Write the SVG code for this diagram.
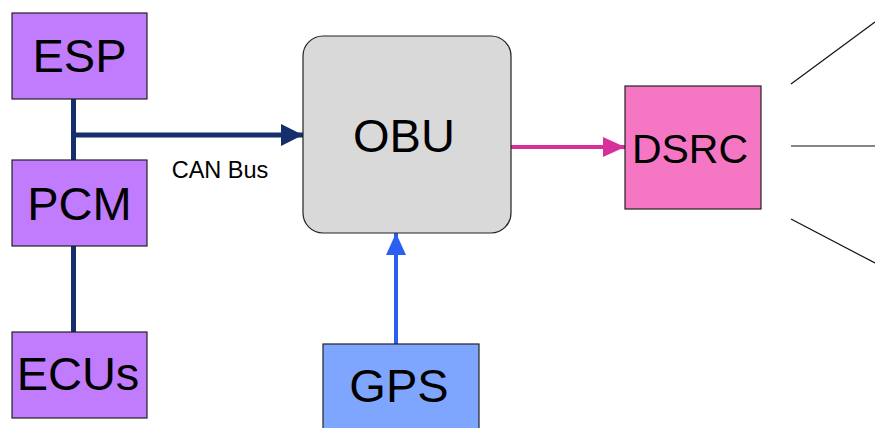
<svg xmlns="http://www.w3.org/2000/svg" width="875" height="428" viewBox="0 0 875 428">
<style>
.box{stroke:#222;stroke-width:1.2}
.ecu{fill:#c07cfc}
.lbl{font-family:"Liberation Sans",Arial,sans-serif;fill:#000;text-anchor:middle}
.big{font-size:47px}
</style>
<defs>
<marker id="mNavy" markerUnits="userSpaceOnUse" markerWidth="22" markerHeight="22" refX="22" refY="11" orient="auto"><path d="M0,0 L22,11 L0,22 Z" fill="#142f6b"/></marker>
<marker id="mPink" markerUnits="userSpaceOnUse" markerWidth="22" markerHeight="20" refX="22" refY="10" orient="auto"><path d="M0,0 L22,10 L0,20 Z" fill="#d8309a"/></marker>
<marker id="mBlue" markerUnits="userSpaceOnUse" markerWidth="22" markerHeight="20" refX="22" refY="10" orient="auto"><path d="M0,0 L22,10 L0,20 Z" fill="#2a5ff2"/></marker>
</defs>
<g id="connectors">
<line x1="73.5" y1="98" x2="73.5" y2="332" stroke="#142f6b" stroke-width="5"/>
<line x1="73.5" y1="135" x2="303" y2="135" stroke="#142f6b" stroke-width="5" marker-end="url(#mNavy)"/>
<line x1="511" y1="147" x2="625" y2="147" stroke="#d8309a" stroke-width="4" marker-end="url(#mPink)"/>
<line x1="396" y1="344" x2="396" y2="233" stroke="#2a5ff2" stroke-width="4" marker-end="url(#mBlue)"/>
<line x1="791" y1="84" x2="875" y2="22" stroke="#111" stroke-width="1.2"/>
<line x1="791" y1="146" x2="875" y2="146" stroke="#111" stroke-width="1.2"/>
<line x1="791" y1="219" x2="875" y2="263" stroke="#111" stroke-width="1.2"/>
<text class="lbl" x="220" y="178" font-size="23.5">CAN Bus</text>
</g>
<g id="esp"><rect class="box ecu" x="12" y="13" width="135" height="86"/><text class="lbl big" x="79.5" y="72">ESP</text></g>
<g id="pcm"><rect class="box ecu" x="12" y="160" width="135" height="86"/><text class="lbl big" x="79.5" y="220">PCM</text></g>
<g id="ecus"><rect class="box ecu" x="12" y="332" width="135" height="86"/><text class="lbl big" x="78" y="390">ECUs</text></g>
<g id="obu"><rect class="box" x="303" y="36" width="208" height="197" rx="20" ry="20" fill="#d9d9d9"/><text class="lbl big" x="404" y="152">OBU</text></g>
<g id="dsrc"><rect class="box" x="625" y="86" width="136" height="123" fill="#f577c4"/><text class="lbl" x="690" y="163" font-size="41">DSRC</text></g>
<g id="gps"><rect class="box" x="323" y="344" width="156" height="90" fill="#7fa6ff"/><text class="lbl big" x="399" y="402">GPS</text></g>
</svg>
